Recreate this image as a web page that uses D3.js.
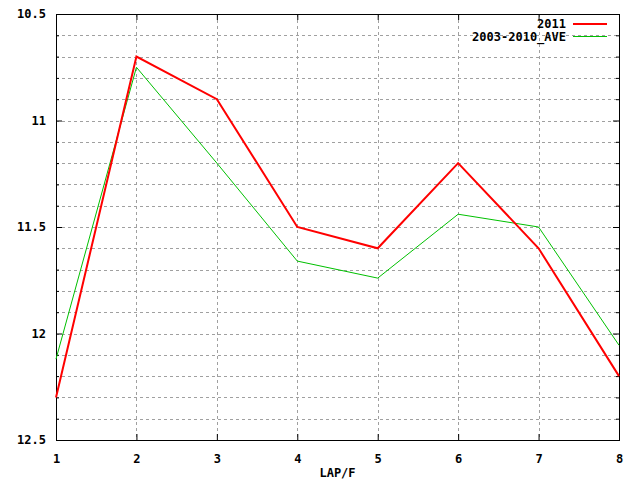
<!DOCTYPE html>
<html>
<head>
<meta charset="utf-8">
<script src="https://cdn.jsdelivr.net/npm/d3@7"></script>
<style>
  body { margin: 0; background: #fff; }
  text { font-family: "DejaVu Sans Mono", monospace; font-weight: bold; font-size: 12px; fill: #000; }
</style>
</head>
<body>
<div id="chart"></div>
<script>
// data
const laps = [1, 2, 3, 4, 5, 6, 7, 8];
const series2011 = [12.3, 10.7, 10.9, 11.5, 11.6, 11.2, 11.6, 12.2];
const seriesAve = [12.12, 10.75, 11.2, 11.66, 11.74, 11.44, 11.5, 12.055];
const seriesNames = ["2011", "2003-2010_AVE"];
const yMajorTicks = [10.5, 11, 11.5, 12, 12.5];
const yMinorTicks = [10.6, 10.7, 10.8, 10.9, 11.1, 11.2, 11.3, 11.4, 11.6, 11.7, 11.8, 11.9, 12.1, 12.2, 12.3, 12.4];
const xLabel = "LAP/F";

const W = 640, H = 480;
const margin = { top: 14, right: 21, bottom: 40, left: 56 };
const width = W - margin.left - margin.right;
const height = H - margin.top - margin.bottom;

const svg = d3.select("#chart").append("svg")
    .attr("width", W).attr("height", H);

const g = svg.append("g").attr("transform", `translate(${margin.left},${margin.top})`);

const x = d3.scaleLinear().domain([1, 8]).range([0, width]);
const y = d3.scaleLinear().domain([10.5, 12.5]).range([0, height]);

// --- grid ---
g.append("g").selectAll("line.hgrid")
    .data(yMajorTicks.concat(yMinorTicks).filter(v => v > 10.5 && v < 12.5))
    .enter().append("line")
    .attr("x1", 0).attr("x2", width)
    .attr("y1", d => Math.round(y(d)) + 0.5).attr("y2", d => Math.round(y(d)) + 0.5)
    .attr("stroke", "#a0a0a0").attr("stroke-dasharray", "3,3");

g.append("g").selectAll("line.vgrid")
    .data(laps.filter(v => v > 1 && v < 8))
    .enter().append("line")
    .attr("x1", d => Math.round(x(d)) + 0.5).attr("x2", d => Math.round(x(d)) + 0.5)
    .attr("y1", 0).attr("y2", height)
    .attr("stroke", "#a0a0a0").attr("stroke-dasharray", "3,3");

// --- axes (ticks inward, mirrored) ---
const yLeft = d3.axisLeft(y).tickValues(yMajorTicks).tickSize(-6).tickPadding(10)
    .tickFormat(d => String(d));
g.append("g").call(yLeft);
g.append("g").call(d3.axisLeft(y).tickValues(yMinorTicks).tickSize(-3).tickFormat(""));
g.append("g").attr("transform", `translate(${width},0)`)
    .call(d3.axisRight(y).tickValues(yMajorTicks).tickSize(-6).tickFormat(""));
g.append("g").attr("transform", `translate(${width},0)`)
    .call(d3.axisRight(y).tickValues(yMinorTicks).tickSize(-3).tickFormat(""));

g.append("g").attr("transform", `translate(0,${height})`)
    .call(d3.axisBottom(x).tickValues(laps).tickSize(-6).tickPadding(14).tickFormat(d3.format("d")));
g.append("g")
    .call(d3.axisTop(x).tickValues(laps).tickSize(-6).tickFormat(""));

g.selectAll(".domain").remove();
g.selectAll(".tick line").attr("stroke", "#000");
g.selectAll(".tick text")
    .style("font-family", "'DejaVu Sans Mono', monospace")
    .style("font-weight", "bold").style("font-size", "12px").attr("fill", "#000");

// border
g.append("rect").attr("x", 0.5).attr("y", 0.5).attr("width", width).attr("height", height)
    .attr("fill", "none").attr("stroke", "#000");

// --- lines ---
const line = d3.line().x((d, i) => x(laps[i])).y(d => y(d));

g.append("path").datum(seriesAve).attr("d", line)
    .attr("fill", "none").attr("stroke", "#00c000").attr("stroke-width", 1);
g.append("path").datum(series2011).attr("d", line)
    .attr("fill", "none").attr("stroke", "#ff0000").attr("stroke-width", 2);

// --- legend ---
const legend = g.append("g");
const legendColors = ["#ff0000", "#00c000"];
const legendWidths = [2, 1];
seriesNames.forEach((name, i) => {
    const ly = 10 + i * 12.5;
    legend.append("text").attr("x", 510).attr("y", ly).attr("dy", "0.35em")
        .attr("text-anchor", "end").text(name);
    legend.append("line").attr("x1", 517).attr("x2", 551).attr("y1", ly).attr("y2", ly)
        .attr("stroke", legendColors[i]).attr("stroke-width", legendWidths[i]);
});

// x label
svg.append("text").attr("x", margin.left + width / 2).attr("y", 473).attr("dy", "0.35em")
    .attr("text-anchor", "middle").text(xLabel);
</script>
</body>
</html>
